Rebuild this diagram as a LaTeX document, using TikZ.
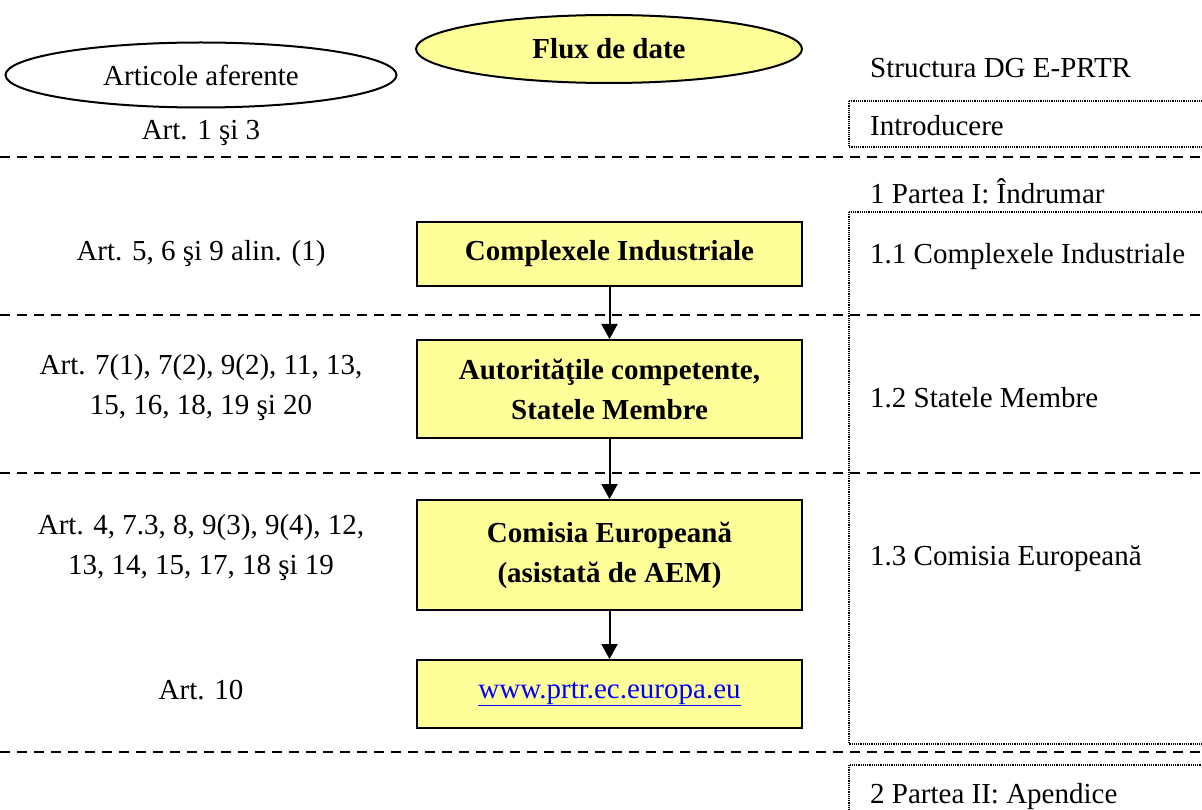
\documentclass[tikz,border=0pt]{standalone}
\usepackage{fontspec}
\setmainfont{Liberation Serif}
\usetikzlibrary{shapes.geometric,arrows.meta}
\definecolor{boxyellow}{HTML}{FFFF99}
\begin{document}
\begin{tikzpicture}[
            x=1pt, y=-1pt,
            every node/.style={font=\fontsize{29}{40}\selectfont},
            oval/.style={ellipse, draw, line width=2pt, inner sep=0pt},
            flowbox/.style={rectangle, draw, line width=2pt, fill=boxyellow,
                minimum width=385pt, align=center,
                font=\fontsize{29}{40}\selectfont\bfseries},
            arttext/.style={align=center},
            secttext/.style={anchor=base west, inner sep=0pt},
            sepline/.style={line width=2pt, dash pattern=on 10pt off 7pt},
            dotbox/.style={line width=1.2pt, dash pattern=on 1.2pt off 1pt},
            flowarrow/.style={-{Triangle[width=16pt,length=15pt]}, line width=2pt},
        ]
        \useasboundingbox (0,0) rectangle (1202,810);
        \clip (0,0) rectangle (1202,810);
        % headings
        \node[oval, minimum width=391pt, minimum height=65pt] (articole) at (201,75) {Articole aferente};
        \node[oval, fill=boxyellow, minimum width=386pt, minimum height=68pt] (flux) at (609,49) {\bfseries Flux de date};
        \node[secttext] (structura) at (870,78) {Structura DG E-PRTR};
        % separators
        \foreach \y in {157,315,473,752}
            \draw[sepline] (0,\y) -- (1202,\y);
        % dotted frames on the right
        \draw[dotbox] (849,101) rectangle (1215,147);
        \draw[dotbox] (849,212) rectangle (1215,744);
        \draw[dotbox] (849,765) rectangle (1215,830);
        % flow
        \node[flowbox, minimum height=64pt] (industriale) at (609.5,254) {Complexele Industriale};
        \node[flowbox, minimum height=98pt] (autoritati) at (609.5,389) {Autorităţile competente,\\Statele Membre};
        \node[flowbox, minimum height=110pt] (comisia) at (609.5,555) {Comisia Europeană\\(asistată de AEM)};
        \node[flowbox, minimum height=68pt, font=\fontsize{29}{40}\selectfont] (site) at (609.5,694) {{\color{blue}\underline{www.prtr.ec.europa.eu}}};
        \draw[flowarrow] (industriale) -- (autoritati);
        \draw[flowarrow] (autoritati) -- (comisia);
        \draw[flowarrow] (comisia) -- (site);
        % articles
        \node[arttext] (art1) at (201,133) {Art. 1 şi 3};
        \node[arttext] (art5) at (201,254) {Art. 5, 6 şi 9 alin. (1)};
        \node[arttext] (art7) at (201,388) {Art. 7(1), 7(2), 9(2), 11, 13,\\15, 16, 18, 19 şi 20};
        \node[arttext] (art4) at (201,548) {Art. 4, 7.3, 8, 9(3), 9(4), 12,\\13, 14, 15, 17, 18 şi 19};
        \node[arttext] (art10) at (201,690) {Art. 10};
        % structure
        \node[secttext] (intro) at (870,136) {Introducere};
        \node[secttext] (parte1) at (870,204) {1 Partea I: Îndrumar};
        \node[secttext] (sect11) at (870,264) {1.1 Complexele Industriale};
        \node[secttext] (sect12) at (870,407) {1.2 Statele Membre};
        \node[secttext] (sect13) at (870,565) {1.3 Comisia Europeană};
        \node[secttext] (parte2) at (870,803) {2 Partea II: Apendice};
\end{tikzpicture}
\end{document}
